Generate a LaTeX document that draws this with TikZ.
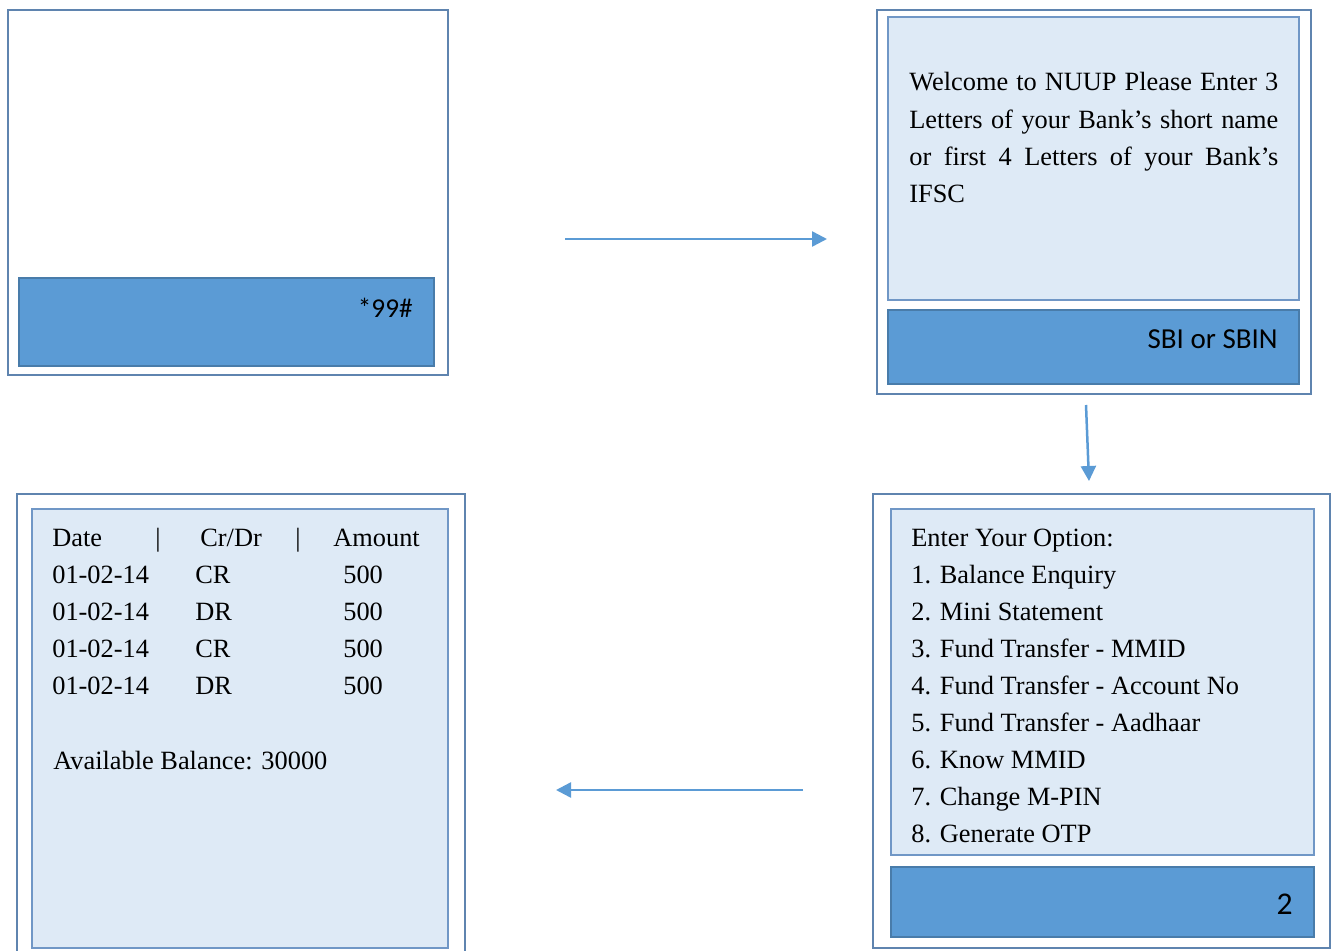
\documentclass[tikz,border=0pt]{standalone}
\usepackage{fontspec}
\setmainfont{Liberation Serif}
\newfontfamily\keyfont{Carlito}
\usetikzlibrary{arrows.meta}

\definecolor{barblue}{HTML}{5B9BD5}
\definecolor{panelblue}{HTML}{DEEAF6}
\definecolor{edgeblue}{HTML}{7097C6}
\definecolor{frameblue}{HTML}{5F84AF}

\tikzset{
  screen/.style={draw=frameblue, line width=0.3mm, fill=white},
  panel/.style={draw=edgeblue, line width=0.4mm, fill=panelblue},
  inputbar/.style={draw=barblue!80!black, line width=0.4mm, fill=barblue},
  flow/.style={draw=barblue, line width=0.5mm, -{Triangle[length=3mm,width=3mm]}},
  menutext/.style={anchor=base west, inner sep=0pt, font=\fontsize{15}{18}\selectfont},
  keytext/.style={anchor=base east, inner sep=0pt, font=\keyfont\fontsize{16.5}{18}\selectfont}
}

\begin{document}
\begin{tikzpicture}[x=0.2mm,y=-0.2mm]
\clip (0,0) rectangle (1331,951);

% Screen 1: dial code
\draw[screen] (8,10) rectangle (448,375);
\draw[inputbar] (19,278) rectangle (434,366);
\node[keytext, font=\keyfont\fontsize{15.5}{17}\selectfont] (dial) at (413,317) {*99\#};

% Screen 2: bank name
\draw[screen] (877,10) rectangle (1311,394);
\draw[panel] (888,17) rectangle (1299,300);
\draw[inputbar] (888,310) rectangle (1299,384);
\node[menutext] (wel1) at (909,91) {\makebox[73.8mm][s]{Welcome to NUUP Please Enter 3}};
\node[menutext] (wel2) at (909,128) {\makebox[73.8mm][s]{Letters of your Bank’s short name}};
\node[menutext] (wel3) at (909,165) {\makebox[73.8mm][s]{or first 4 Letters of your Bank’s}};
\node[menutext] (wel4) at (909,202) {IFSC};
\node[keytext] (bank) at (1278,348) {SBI or SBIN};

% Screen 3: option menu
\draw[screen] (873,494) rectangle (1330,948);
\draw[panel] (891,509) rectangle (1314,855);
\draw[inputbar] (891,867) rectangle (1314,937);
\foreach \txt [count=\i from 0] in {Enter Your Option:, 1. Balance Enquiry, 2. Mini Statement,
    3. Fund Transfer - MMID, 4. Fund Transfer - Account No, 5. Fund Transfer - Aadhaar,
    6. Know MMID, 7. Change M-PIN, 8. Generate OTP} {
  \node[menutext] (opt\i) at (911,{546+37.1*\i}) {\txt};
}
\node[keytext, font=\keyfont\fontsize{18}{20}\selectfont] (choice) at (1293,914) {2};

% Screen 4: mini statement
\draw[screen] (17,494) rectangle (465,960);
\draw[panel] (32,509) rectangle (448,948);
\node[menutext] (hdate) at (52,546) {Date};
\node[menutext] (bar1) at (155,546) {|};
\node[menutext] (hkind) at (200,546) {Cr/Dr};
\node[menutext] (bar2) at (295,546) {|};
\node[menutext] (hamt) at (333,546) {Amount};
\foreach \kind [count=\i] in {CR,DR,CR,DR} {
  \node[menutext] (date\i) at (52,{546+37.1*\i}) {01-02-14};
  \node[menutext] (kind\i) at (195,{546+37.1*\i}) {\kind};
  \node[menutext] (amt\i) at (343,{546+37.1*\i}) {500};
}
\node[menutext] (bal) at (53,769) {Available Balance: 30000};

% Flow arrows
\coordinate (f1a) at (565,239);
\coordinate (f1b) at (827,239);
\coordinate (f2a) at (1086,405);
\coordinate (f2b) at (1089,481);
\coordinate (f3a) at (803,790);
\coordinate (f3b) at (556,790);
\draw[flow] (f1a) -- (f1b);
\draw[flow] (f2a) -- (f2b);
\draw[flow] (f3a) -- (f3b);

\end{tikzpicture}
\end{document}
